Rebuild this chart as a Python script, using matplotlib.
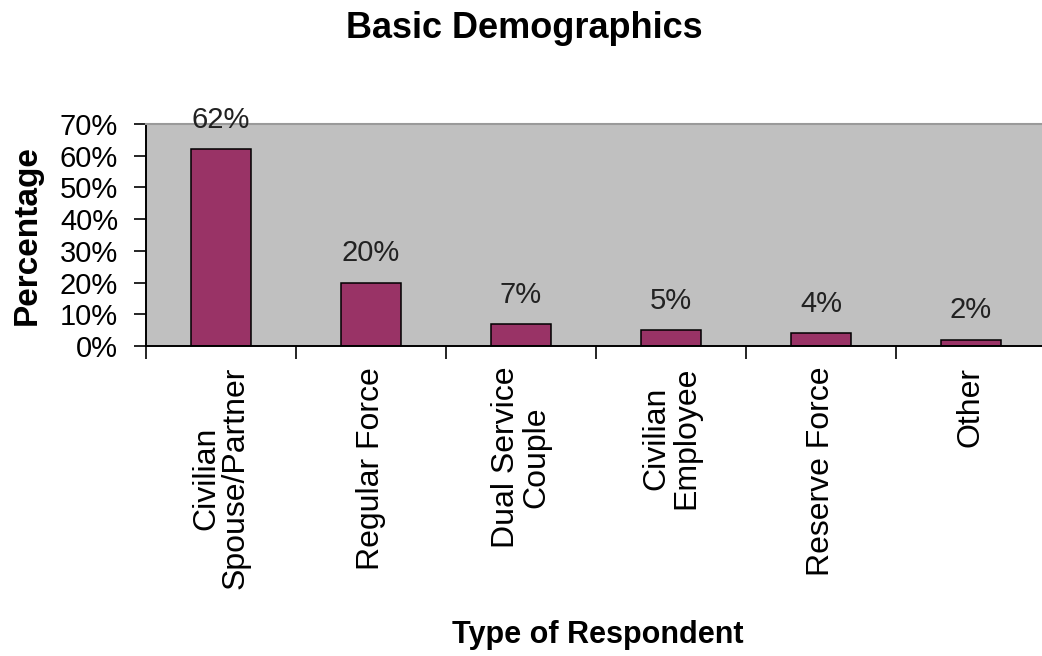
# Bar chart of respondent types
import matplotlib.pyplot as plt
import numpy as np

# Data
categories = ['Civilian\nSpouse/Partner', 'Regular Force', 'Dual Service\nCouple',
              'Civilian\nEmployee', 'Reserve Force', 'Other']
percentages = [62, 20, 7, 5, 4, 2]
y_ticks = [0, 10, 20, 30, 40, 50, 60, 70]

plt.rcParams['font.family'] = ['Liberation Sans', 'DejaVu Sans']

fig = plt.figure(figsize=(10.42, 6.56), dpi=100)
ax = fig.add_axes([146 / 1042, 310 / 656, 900 / 1042, 222 / 656])
ax.set_facecolor('#C0C0C0')

x = np.arange(len(categories))
ax.bar(x, percentages, width=0.4, color='#993366', edgecolor='black', linewidth=1.1, zorder=2)

# value labels above the bars
for xi, v in zip(x, percentages):
    ax.annotate(f'{v}%', (xi, v), xytext=(0, 11), textcoords='offset points',
                ha='center', va='bottom', fontsize=21, color='#222222')

ax.set_xlim(-0.5, len(categories) - 0.5)
ax.set_ylim(0, 70)

# y axis
ax.set_yticks(y_ticks)
ax.set_yticklabels([f'{t}%' for t in y_ticks], fontsize=21)
ax.tick_params(axis='y', direction='out', length=9, width=1.2, pad=11)

# x axis: labels at centres, tick marks at category boundaries
ax.set_xticks(x)
ax.set_xticklabels(categories, rotation=90, fontsize=23, va='top', ha='center',
                   multialignment='center', linespacing=1.0)
ax.set_xticks(np.arange(len(categories) + 1) - 0.5, minor=True)
ax.tick_params(axis='x', which='major', length=0, pad=15)
ax.tick_params(axis='x', which='minor', direction='out', length=9, width=1.2)

ax.spines['right'].set_visible(False)
ax.spines['top'].set_color('#9a9a9a')
ax.spines['top'].set_linewidth(1.5)
ax.spines['left'].set_linewidth(1.4)
ax.spines['bottom'].set_linewidth(1.4)

# titles and axis labels
fig.text(27 / 1042, 1 - 235 / 656, 'Percentage', rotation=90, fontsize=24,
         fontweight='bold', ha='center', va='center')
fig.text(598 / 1042, 1 - 635 / 656, 'Type of Respondent', fontsize=22,
         fontweight='bold', ha='center', va='center')
fig.text(524 / 1042, 1 - 28 / 656, 'Basic Demographics', fontsize=26,
         fontweight='bold', ha='center', va='center')

plt.savefig('out.png', dpi=100)
